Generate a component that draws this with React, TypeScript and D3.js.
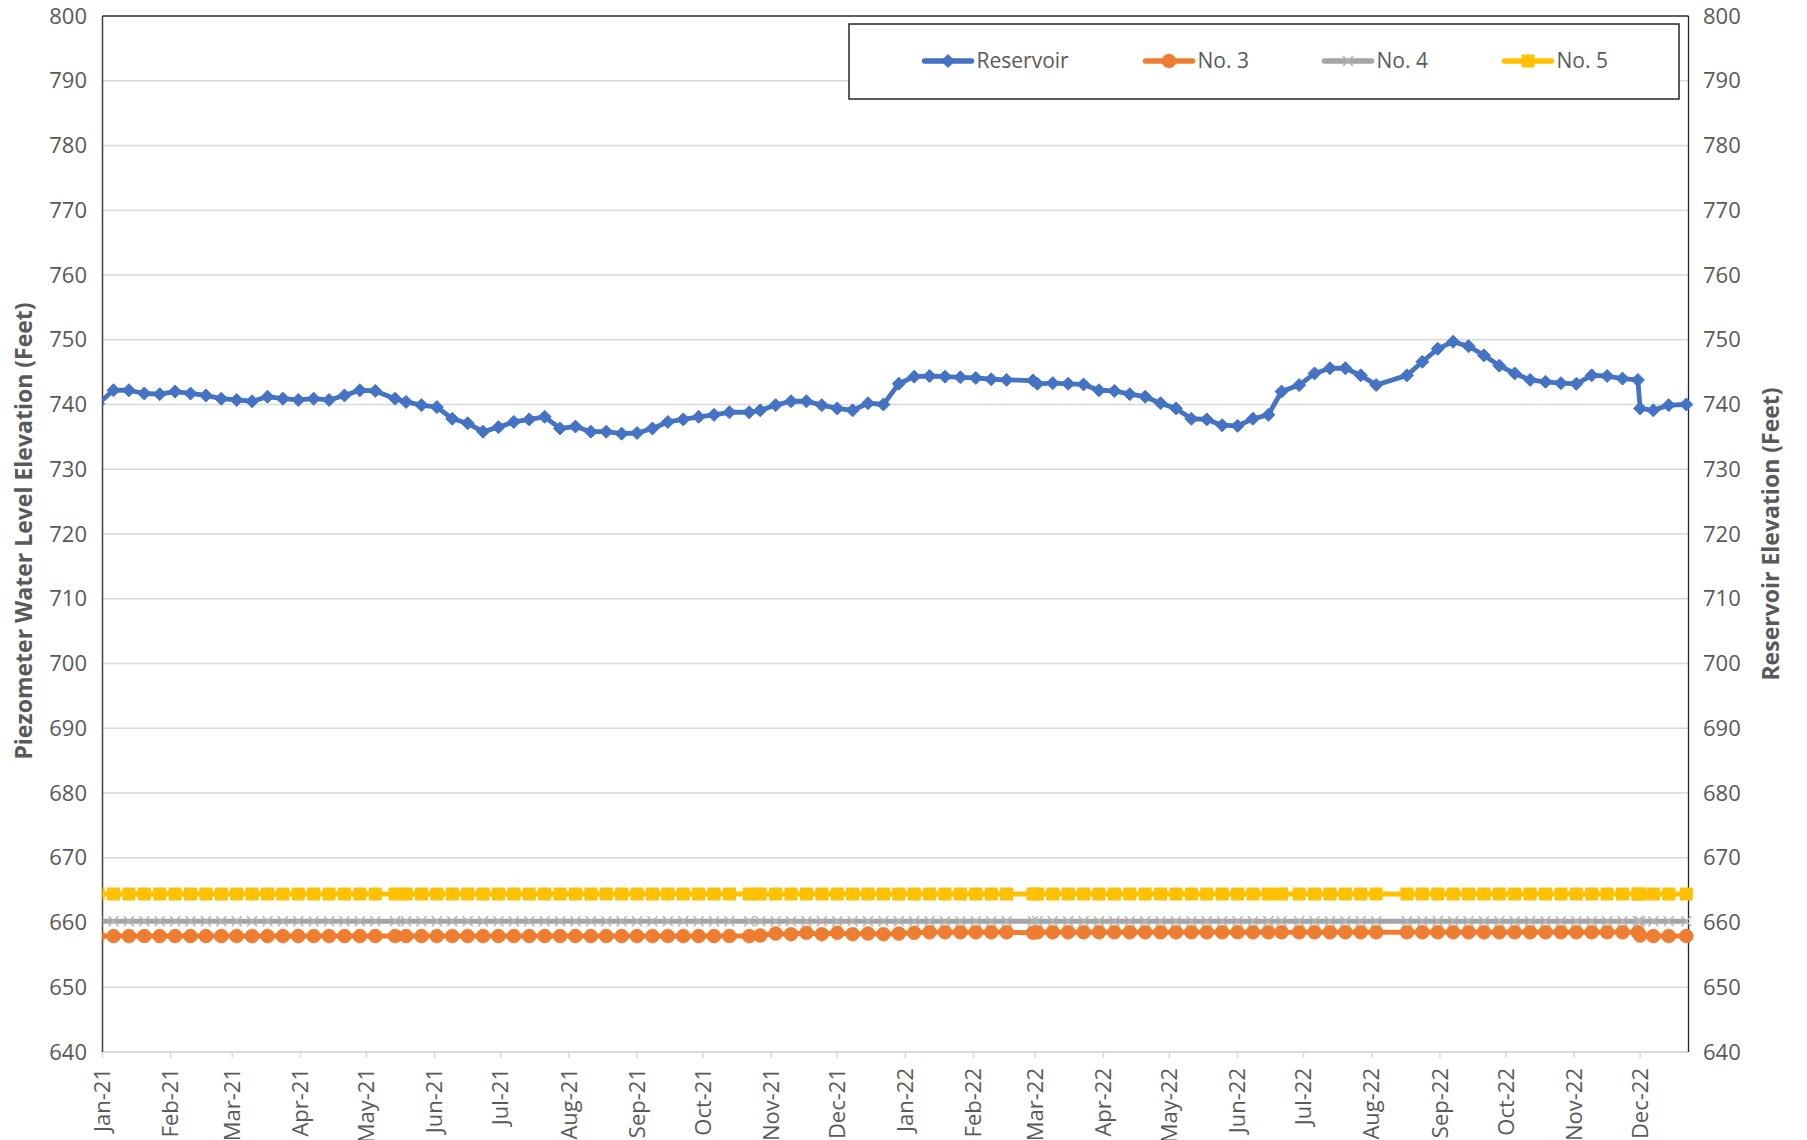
import React from "react";
import * as d3 from "d3";

const dates: string[] = [
  "2020-12-30", "2021-01-06", "2021-01-13", "2021-01-20", "2021-01-27", "2021-02-03", "2021-02-10", "2021-02-17", "2021-02-24", "2021-03-03",
  "2021-03-10", "2021-03-17", "2021-03-24", "2021-03-31", "2021-04-07", "2021-04-14", "2021-04-21", "2021-04-28", "2021-05-05", "2021-05-14",
  "2021-05-19", "2021-05-26", "2021-06-02", "2021-06-09", "2021-06-16", "2021-06-23", "2021-06-30", "2021-07-07", "2021-07-14", "2021-07-21",
  "2021-07-28", "2021-08-04", "2021-08-11", "2021-08-18", "2021-08-25", "2021-09-01", "2021-09-08", "2021-09-15", "2021-09-22", "2021-09-29",
  "2021-10-06", "2021-10-13", "2021-10-22", "2021-10-27", "2021-11-03", "2021-11-10", "2021-11-17", "2021-11-24", "2021-12-01", "2021-12-08",
  "2021-12-15", "2021-12-22", "2021-12-29",
  "2022-01-05", "2022-01-12", "2022-01-19", "2022-01-26", "2022-02-02", "2022-02-09", "2022-02-16", "2022-02-28", "2022-03-02", "2022-03-09",
  "2022-03-16", "2022-03-23", "2022-03-30", "2022-04-06", "2022-04-13", "2022-04-20", "2022-04-27", "2022-05-04", "2022-05-11", "2022-05-18",
  "2022-05-25", "2022-06-01", "2022-06-08", "2022-06-15", "2022-06-21", "2022-06-29", "2022-07-06", "2022-07-13", "2022-07-20", "2022-07-27",
  "2022-08-03", "2022-08-17", "2022-08-24", "2022-08-31", "2022-09-07", "2022-09-14", "2022-09-21", "2022-09-28", "2022-10-05", "2022-10-12",
  "2022-10-19", "2022-10-26", "2022-11-02", "2022-11-09", "2022-11-16", "2022-11-23", "2022-11-30", "2022-12-01", "2022-12-07", "2022-12-14",
  "2022-12-22",
];

const reservoir: number[] = [
  740.1, 742.2, 742.2, 741.7, 741.6, 742.0, 741.7, 741.4, 740.9, 740.7,
  740.5, 741.2, 740.9, 740.7, 740.9, 740.7, 741.4, 742.2, 742.1, 740.9,
  740.4, 739.9, 739.6, 737.8, 737.1, 735.8, 736.5, 737.3, 737.7, 738.1,
  736.3, 736.6, 735.8, 735.8, 735.5, 735.6, 736.3, 737.3, 737.7, 738.1,
  738.4, 738.8, 738.8, 739.1, 739.9, 740.5, 740.5, 739.9, 739.4, 739.1,
  740.2, 740.0, 743.2,
  744.3, 744.4, 744.3, 744.2, 744.1, 743.9, 743.8, 743.7, 743.2, 743.3,
  743.2, 743.1, 742.2, 742.1, 741.6, 741.2, 740.2, 739.4, 737.8, 737.7,
  736.8, 736.7, 737.8, 738.4, 742.0, 743.0, 744.8, 745.6, 745.6, 744.5,
  743.0, 744.5, 746.6, 748.6, 749.7, 749.0, 747.6, 746.0, 744.8, 743.8,
  743.5, 743.3, 743.2, 744.5, 744.4, 744.0, 743.8, 739.4, 739.1, 739.9,
  740.0,
];

const no3: number[] = [
  657.9, 657.9, 657.9, 657.9, 657.9, 657.9, 657.9, 657.9, 657.9, 657.9,
  657.9, 657.9, 657.9, 657.9, 657.9, 657.9, 657.9, 657.9, 657.9, 657.9,
  657.9, 657.9, 657.9, 657.9, 657.9, 657.9, 657.9, 657.9, 657.9, 657.9,
  657.9, 657.9, 657.9, 657.9, 657.9, 657.9, 657.9, 657.9, 657.9, 657.9,
  657.9, 657.9, 657.9, 658.0, 658.3, 658.2, 658.4, 658.2, 658.4, 658.2,
  658.3, 658.2, 658.3,
  658.4, 658.5, 658.5, 658.5, 658.5, 658.5, 658.5, 658.4, 658.5, 658.5,
  658.5, 658.5, 658.5, 658.5, 658.5, 658.5, 658.5, 658.5, 658.5, 658.5,
  658.5, 658.5, 658.5, 658.5, 658.5, 658.5, 658.5, 658.5, 658.5, 658.5,
  658.5, 658.5, 658.5, 658.5, 658.5, 658.5, 658.5, 658.5, 658.5, 658.5,
  658.5, 658.5, 658.5, 658.5, 658.5, 658.5, 658.5, 658.0, 657.9, 657.9,
  657.9,
];

const no4: number[] = [
  660.2, 660.2, 660.2, 660.2, 660.2, 660.2, 660.2, 660.2, 660.2, 660.2,
  660.2, 660.2, 660.2, 660.2, 660.2, 660.2, 660.2, 660.2, 660.2, 660.2,
  660.2, 660.2, 660.2, 660.2, 660.2, 660.2, 660.2, 660.2, 660.2, 660.2,
  660.2, 660.2, 660.2, 660.2, 660.2, 660.2, 660.2, 660.2, 660.2, 660.2,
  660.2, 660.2, 660.2, 660.2, 660.2, 660.2, 660.2, 660.2, 660.2, 660.2,
  660.2, 660.2, 660.2,
  660.2, 660.2, 660.2, 660.2, 660.2, 660.2, 660.2, 660.2, 660.2, 660.2,
  660.2, 660.2, 660.2, 660.2, 660.2, 660.2, 660.2, 660.2, 660.2, 660.2,
  660.2, 660.2, 660.2, 660.2, 660.2, 660.2, 660.2, 660.2, 660.2, 660.2,
  660.2, 660.2, 660.2, 660.2, 660.2, 660.2, 660.2, 660.2, 660.2, 660.2,
  660.2, 660.2, 660.2, 660.2, 660.2, 660.2, 660.2, 660.2, 660.2, 660.2,
  660.2,
];

const no5: number[] = [
  664.4, 664.4, 664.4, 664.4, 664.4, 664.4, 664.4, 664.4, 664.4, 664.4,
  664.4, 664.4, 664.4, 664.4, 664.4, 664.4, 664.4, 664.4, 664.4, 664.4,
  664.4, 664.4, 664.4, 664.4, 664.4, 664.4, 664.4, 664.4, 664.4, 664.4,
  664.4, 664.4, 664.4, 664.4, 664.4, 664.4, 664.4, 664.4, 664.4, 664.4,
  664.4, 664.4, 664.4, 664.4, 664.4, 664.4, 664.4, 664.4, 664.4, 664.4,
  664.4, 664.4, 664.4,
  664.4, 664.4, 664.4, 664.4, 664.4, 664.4, 664.4, 664.4, 664.4, 664.4,
  664.4, 664.4, 664.4, 664.4, 664.4, 664.4, 664.4, 664.4, 664.4, 664.4,
  664.4, 664.4, 664.4, 664.4, 664.4, 664.4, 664.4, 664.4, 664.4, 664.4,
  664.4, 664.4, 664.4, 664.4, 664.4, 664.4, 664.4, 664.4, 664.4, 664.4,
  664.4, 664.4, 664.4, 664.4, 664.4, 664.4, 664.4, 664.4, 664.4, 664.4,
  664.4,
];

const yTicks: number[] = [640, 650, 660, 670, 680, 690, 700, 710, 720, 730, 740, 750, 760, 770, 780, 790, 800];
const seriesNames: string[] = ["Reservoir", "No. 3", "No. 4", "No. 5"];
const leftTitle = "Piezometer Water Level Elevation (Feet)";
const rightTitle = "Reservoir Elevation (Feet)";
const xDomain: string[] = ["2021-01-01", "2022-12-23"];

const W = 1807;
const H = 1140;
const PL = 102.5;
const PR = 1688.5;
const PT = 16;
const PB = 1052;
const FONT = "'Open Sans', 'Noto Sans', sans-serif";
const TEXT = "#595959";

type Marker = "diamond" | "circle" | "x" | "square";

function markerShape(kind: Marker, cx: number, cy: number, color: string, key: string | number) {
  if (kind === "diamond") {
    const h = 6.5;
    return <path key={key} d={`M${cx},${cy - h}L${cx + h},${cy}L${cx},${cy + h}L${cx - h},${cy}Z`} fill={color} stroke={color} strokeWidth={1} />;
  }
  if (kind === "circle") {
    return <circle key={key} cx={cx} cy={cy} r={7} fill={color} stroke={color} strokeWidth={0.5} />;
  }
  if (kind === "square") {
    return <rect key={key} x={cx - 6.5} y={cy - 6.5} width={13} height={13} fill={color} />;
  }
  const s = 5;
  return (
    <path key={key} d={`M${cx - s},${cy - s}L${cx + s},${cy + s}M${cx - s},${cy + s}L${cx + s},${cy - s}`} stroke="#b4b4b4" strokeWidth={1.6} fill="none" />
  );
}

export default function App() {
  const parse = d3.timeParse("%Y-%m-%d");
  const xd = dates.map((d) => parse(d) as Date);
  const x = d3.scaleTime().domain([parse(xDomain[0]) as Date, parse(xDomain[1]) as Date]).range([PL, PR]);
  const y = d3.scaleLinear().domain([640, 800]).range([PB, PT]);
  const monthTicks = d3.timeMonth.range(parse(xDomain[0]) as Date, parse(xDomain[1]) as Date);
  const fmt = d3.timeFormat("%b-%y");

  const series = [
    { name: seriesNames[1], values: no3, color: "#ED7D31", marker: "circle" as Marker, width: 5 },
    { name: seriesNames[2], values: no4, color: "#A5A5A5", marker: "x" as Marker, width: 5 },
    { name: seriesNames[3], values: no5, color: "#FFC000", marker: "square" as Marker, width: 5 },
    { name: seriesNames[0], values: reservoir, color: "#4472C4", marker: "diamond" as Marker, width: 4.8 },
  ];
  const legendOrder = [series[3], series[0], series[1], series[2]];
  const legendX = [924.5, 1145.5, 1324.5, 1504.5];

  const line = d3
    .line<number>()
    .x((_, i) => x(xd[i]))
    .y((d) => y(d));

  return (
    <svg width={W} height={H} style={{ position: "absolute", left: 0, top: 0, background: "#fff" }} fontFamily={FONT}>
      <defs>
        <clipPath id="plotclip">
          <rect x={PL} y={0} width={W - PL} height={H} />
        </clipPath>
      </defs>
      <rect x={0} y={0} width={W} height={H} fill="#fff" />
      {yTicks.slice(1, -1).map((t) => (
        <line key={t} x1={PL} x2={PR} y1={y(t)} y2={y(t)} stroke="#d9d9d9" strokeWidth={1.5} />
      ))}
      <line x1={PL} x2={PR} y1={PB} y2={PB} stroke="#d9d9d9" strokeWidth={2} />
      {monthTicks.map((m, i) => (
        <line key={i} x1={x(m)} x2={x(m)} y1={PB} y2={PB + 6} stroke="#d9d9d9" strokeWidth={1.5} />
      ))}
      {monthTicks.map((m, i) => (
        <text
          key={"l" + i}
          transform={`translate(${x(m)},${1068}) rotate(-90)`}
          textAnchor="end"
          dy="0.35em"
          fontSize={22}
          fill={TEXT}
        >
          {fmt(m)}
        </text>
      ))}
      <line x1={PL} x2={PR} y1={PT} y2={PT} stroke="#262626" strokeWidth={1.3} />
      <line x1={PL} x2={PL} y1={PT} y2={PB} stroke="#404040" strokeWidth={1.5} />
      <line x1={PR} x2={PR} y1={PT} y2={PB} stroke="#262626" strokeWidth={1.3} />
      {yTicks.map((t) => (
        <text key={"yl" + t} x={87} y={y(t)} dy="0.35em" textAnchor="end" fontSize={22} fill={TEXT}>
          {t}
        </text>
      ))}
      {yTicks.map((t) => (
        <text key={"yr" + t} x={1703} y={y(t)} dy="0.35em" textAnchor="start" fontSize={22} fill={TEXT}>
          {t}
        </text>
      ))}
      <text transform={`translate(24,531) rotate(-90)`} textAnchor="middle" dy="0.35em" fontSize={23} fontWeight="bold" fill={TEXT}>
        {leftTitle}
      </text>
      <text transform={`translate(1771,534) rotate(-90)`} textAnchor="middle" dy="0.35em" fontSize={23} fontWeight="bold" fill={TEXT}>
        {rightTitle}
      </text>
      <g clipPath="url(#plotclip)">
        {series.map((s) => (
          <g key={s.name}>
            <path d={line(s.values) || ""} fill="none" stroke={s.color} strokeWidth={s.width} strokeLinejoin="round" />
            {s.values.map((v, i) => markerShape(s.marker, x(xd[i]), y(v), s.color, i))}
          </g>
        ))}
      </g>
      <rect x={849} y={24} width={830} height={75} fill="#fff" stroke="#262626" strokeWidth={1.5} />
      {legendOrder.map((s, i) => (
        <g key={"lg" + s.name}>
          <line x1={legendX[i]} x2={legendX[i] + 47} y1={61} y2={61} stroke={s.color} strokeWidth={5.5} strokeLinecap="round" />
          {markerShape(s.marker, legendX[i] + 23.5, 61, s.color, "m")}
          <text x={legendX[i] + 52} y={61} dy="0.35em" fontSize={21} fill={TEXT}>
            {s.name}
          </text>
        </g>
      ))}
    </svg>
  );
}
